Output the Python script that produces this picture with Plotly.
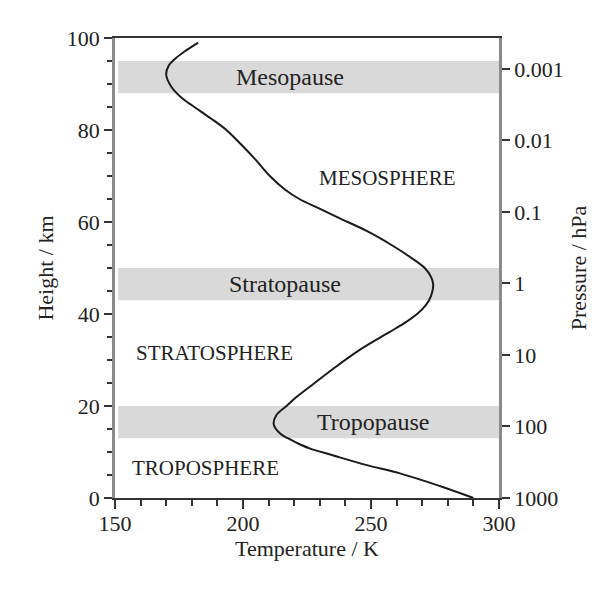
import math
import plotly.graph_objects as go

# Temperature profile of the standard-like atmosphere
height_km = [0, 2, 3.5, 5.4, 7.2, 9.3, 10.8, 12, 13, 14, 16, 18, 20, 22, 25, 28, 32, 36,
             38, 40, 42, 44, 46.3, 48, 50, 52.5, 55, 58, 61, 63, 65, 67, 70, 73.5, 77, 80,
             82.5, 85, 87, 89.4, 92, 94, 95.5, 97, 99]
temperature_k = [290, 280, 272, 261, 248, 235, 226, 221, 217.5, 214.5, 212, 213, 217, 221,
                 228, 235, 245, 257, 263, 268, 271.5, 273.5, 274.3, 273.5, 271, 265, 258,
                 248.5, 237, 229.5, 222, 216.5, 210.5, 205, 199, 193.5, 187.5, 181, 176,
                 172, 170, 171, 173.5, 177, 182.5]

# Shaded "pause" layers (bottom, top in km) and their labels
pause_names = ["Tropopause", "Stratopause", "Mesopause"]
pause_bottom = [13, 43, 88]
pause_top = [20, 50, 95]
pause_label_t = [250.8, 216.4, 218.4]

# Layer names
sphere_names = ["TROPOSPHERE", "STRATOSPHERE", "MESOSPHERE"]
sphere_t = [185.5, 188.7, 256.6]
sphere_h = [6.5, 31.5, 69.6]

# Pressure scale on the right axis
pressure_ticks = [1000, 100, 10, 1, 0.1, 0.01, 0.001]
pressure_labels = ["1000", "100", "10", "1", "0.1", "0.01", "0.001"]
surface_pressure = 1000.0
km_per_decade = 15.55
top_km = 100

t_range = [150, 300]
p_top_log = math.log10(surface_pressure) - top_km / km_per_decade

FONT = "Liberation Serif"
INK = "#222222"
GRAY_AXIS = "#8a8a8a"
TICK = "#333333"

fig = go.Figure()

fig.add_trace(go.Scatter(
    x=temperature_k, y=height_km, mode="lines",
    line=dict(color="#1a1a1a", width=2, shape="spline", smoothing=1.0),
    showlegend=False, hoverinfo="skip",
))

# invisible trace so the pressure axis and the top frame axis are drawn
fig.add_trace(go.Scatter(
    x=[None] * len(pressure_ticks), y=pressure_ticks, xaxis="x2", yaxis="y2",
    mode="markers", marker=dict(opacity=0), showlegend=False, hoverinfo="skip",
))

for name, lo, hi, lt in zip(pause_names, pause_bottom, pause_top, pause_label_t):
    fig.add_shape(type="rect", xref="x", yref="y", x0=151.2, x1=300, y0=lo, y1=hi,
                  fillcolor="#d9d9d9", line=dict(width=0), layer="below")
    fig.add_annotation(x=lt, y=(lo + hi) / 2, xref="x", yref="y", text=name,
                       showarrow=False, font=dict(family=FONT, size=24, color=INK))

for name, t, h in zip(sphere_names, sphere_t, sphere_h):
    fig.add_annotation(x=t, y=h, xref="x", yref="y", text=name, showarrow=False,
                       font=dict(family=FONT, size=21, color=INK))

fig.update_layout(
    width=610, height=589,
    margin=dict(l=115, r=111, t=38, b=91),
    paper_bgcolor="white", plot_bgcolor="white",
    font=dict(family=FONT, color=INK),
    xaxis=dict(
        range=t_range, tick0=150, dtick=50,
        showgrid=False, zeroline=False,
        showline=True, linecolor="#333333", linewidth=1.5,
        ticks="outside", ticklen=9, tickwidth=1.6, tickcolor=TICK,
        minor=dict(dtick=10, tick0=150, ticks="outside", ticklen=6, tickwidth=1.6,
                   tickcolor=TICK, showgrid=False),
        ticklabelstandoff=-4,
        tickfont=dict(family=FONT, size=22, color=INK),
        title=dict(text="Temperature / K", font=dict(family=FONT, size=22, color=INK),
                   standoff=5),
    ),
    # top frame line
    xaxis2=dict(
        range=t_range, overlaying="x", side="top", matches="x",
        showgrid=False, zeroline=False, showticklabels=False, ticks="",
        showline=True, linecolor="#333333", linewidth=1.5,
    ),
    yaxis=dict(
        range=[0, 100], tick0=0, dtick=20,
        showgrid=False, zeroline=False,
        showline=True, linecolor=GRAY_AXIS, linewidth=2.5,
        ticks="outside", ticklen=8, tickwidth=1.6, tickcolor=TICK,
        minor=dict(dtick=5, tick0=0, ticks="outside", ticklen=5, tickwidth=1.6,
                   tickcolor=TICK, showgrid=False),
        tickfont=dict(family=FONT, size=22, color=INK),
        title=dict(text="Height / km", font=dict(family=FONT, size=22, color=INK),
                   standoff=8),
    ),
    yaxis2=dict(
        type="log", overlaying="y", side="right",
        range=[math.log10(surface_pressure), p_top_log], autorange=False,
        tickvals=pressure_ticks, ticktext=pressure_labels,
        showgrid=False, zeroline=False,
        showline=True, linecolor=GRAY_AXIS, linewidth=2.5,
        ticks="outside", ticklen=8, tickwidth=1.6, tickcolor=TICK,
        tickfont=dict(family=FONT, size=22, color=INK),
        title=dict(text="Pressure / hPa", font=dict(family=FONT, size=22, color=INK),
                   standoff=8),
    ),
)

fig.write_html("out.html")
